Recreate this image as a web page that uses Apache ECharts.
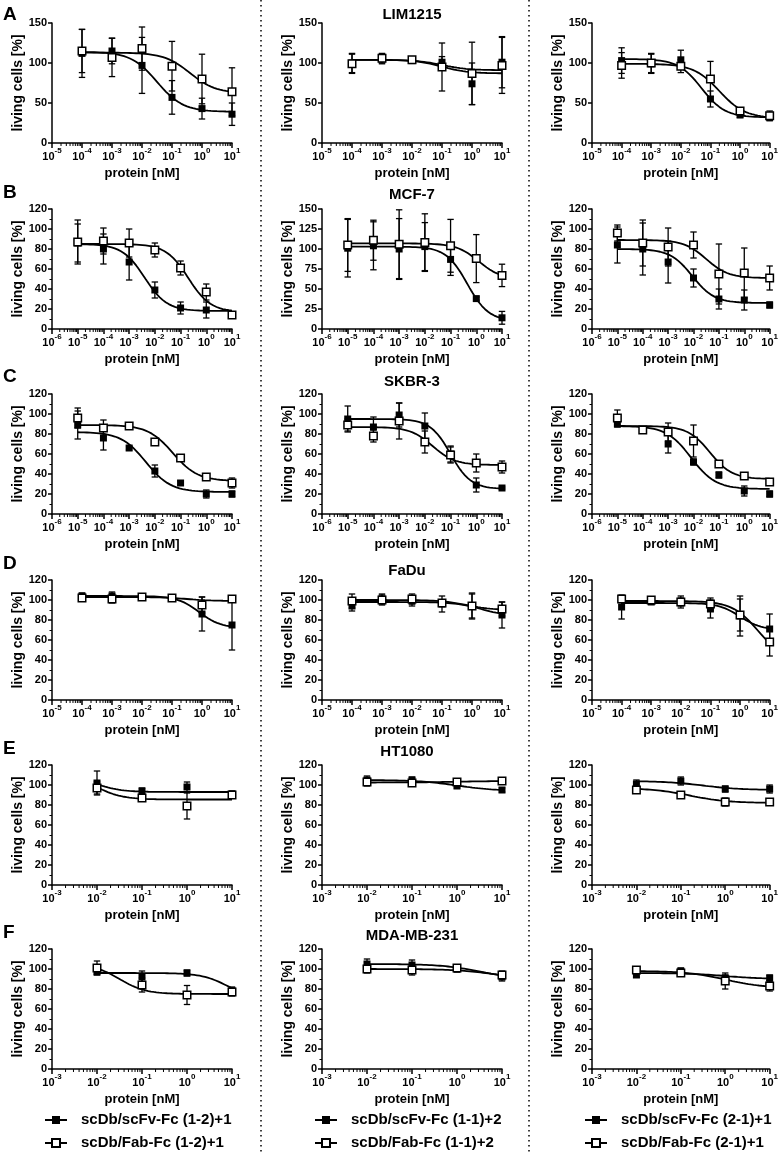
<!DOCTYPE html>
<html><head><meta charset="utf-8">
<script src="https://cdn.jsdelivr.net/npm/echarts@6/dist/echarts.min.js"></script>
<style>html,body{margin:0;padding:0;background:#fff}#c{width:781px;height:1154px}</style>
</head><body><div id="c"></div>
<script>
// ---------- data ----------
const cellLines = ['LIM1215', 'MCF-7', 'SKBR-3', 'FaDu', 'HT1080', 'MDA-MB-231'];
const rowLetters = ['A', 'B', 'C', 'D', 'E', 'F'];
const legendNames = [
  ['scDb/scFv-Fc (1-2)+1', 'scDb/Fab-Fc (1-2)+1'],
  ['scDb/scFv-Fc (1-1)+2', 'scDb/Fab-Fc (1-1)+2'],
  ['scDb/scFv-Fc (2-1)+1', 'scDb/Fab-Fc (2-1)+1']
];
// x-axis decade range (exponents) per row
const xExpRange = [[-5, 1], [-6, 1], [-6, 1], [-5, 1], [-3, 1], [-3, 1]];
// y-axis max and step per row / column
const yMax = [[150, 150, 150], [120, 150, 120], [120, 120, 120], [120, 120, 120], [120, 120, 120], [120, 120, 120]];
const yStep = [[50, 50, 50], [20, 25, 20], [20, 20, 20], [20, 20, 20], [20, 20, 20], [20, 20, 20]];

// doses [nM]
const rowA_dose = [1e-4, 1e-3, 1e-2, 1e-1, 1, 10];
const rowB_dose = [1e-5, 1e-4, 1e-3, 1e-2, 1e-1, 1, 10];
const rowC_dose = [1e-5, 1e-4, 1e-3, 1e-2, 1e-1, 1, 10];
const rowD_dose = [1e-4, 1e-3, 1e-2, 1e-1, 1, 10];
const rowE_dose = [1e-2, 1e-1, 1, 10];
const rowF_dose = [1e-2, 1e-1, 1, 10];

// living cells [%] (filled = scDb/scFv-Fc, open = scDb/Fab-Fc), one inner array per column
const rowA_filled = [[112, 115, 97, 57, 43, 36], [100, 105, 103, 101, 74, 101], [103, 99, 104, 55, 35, 33]];
const rowA_filledErr = [[30, 16, 35, 21, 13, 14], [12, 6, 2, 7, 26, 32], [16, 12, 12, 10, 3, 5]];
const rowA_open = [[115, 107, 118, 96, 80, 64], [99, 106, 104, 95, 87, 97], [97, 100, 96, 80, 40, 34]];
const rowA_openErr = [[27, 24, 27, 31, 31, 30], [12, 6, 2, 30, 39, 35], [16, 12, 8, 22, 3, 6]];

const rowB_filled = [[86, 80, 67, 39, 21, 19, 14], [101, 104, 100, 103, 87, 38, 14], [84, 80, 67, 51, 30, 29, 24]];
const rowB_filledErr = [[19, 15, 18, 8, 6, 8, 2], [36, 30, 38, 30, 20, 2, 8], [18, 26, 21, 9, 10, 10, 3]];
const rowB_open = [[87, 88, 86, 79, 61, 37, 14], [105, 111, 106, 108, 104, 88, 67], [96, 86, 82, 84, 55, 56, 51]];
const rowB_openErr = [[22, 13, 14, 7, 7, 8, 2], [33, 25, 43, 36, 33, 30, 14], [8, 23, 19, 13, 30, 25, 12]];

const rowC_filled = [[89, 76, 66, 43, 31, 20, 20], [95, 87, 99, 88, 60, 29, 26], [90, 84, 70, 52, 39, 23, 20]];
const rowC_filledErr = [[14, 12, 2, 6, 2, 4, 3], [13, 10, 12, 13, 8, 7, 1], [3, 2, 9, 3, 3, 5, 3]];
const rowC_open = [[96, 86, 88, 72, 56, 37, 31], [89, 78, 93, 72, 59, 51, 47], [96, 84, 82, 73, 50, 38, 32]];
const rowC_openErr = [[10, 8, 2, 2, 2, 2, 5], [6, 6, 18, 11, 8, 9, 6], [8, 2, 9, 16, 2, 2, 2]];

const rowD_filled = [[104, 104, 103, 102, 86, 75], [94, 101, 99, 96, 94, 85], [93, 98, 98, 91, 84, 71]];
const rowD_filledErr = [[3, 4, 2, 2, 17, 25], [5, 5, 5, 8, 13, 13], [12, 2, 6, 9, 20, 15]];
const rowD_open = [[102, 101, 103, 102, 95, 101], [99, 100, 101, 97, 94, 91], [101, 100, 98, 96, 85, 58]];
const rowD_openErr = [[3, 4, 2, 2, 8, 2], [7, 5, 5, 3, 12, 7], [3, 2, 4, 6, 16, 14]];

const rowE_filled = [[102, 94, 98, 91], [105, 105, 99, 95], [101, 104, 96, 96]];
const rowE_filledErr = [[12, 3, 5, 3], [4, 3, 2, 2], [4, 4, 3, 4]];
const rowE_open = [[97, 87, 79, 90], [103, 102, 103, 104], [95, 90, 83, 83]];
const rowE_openErr = [[6, 3, 13, 3], [4, 3, 3, 3], [3, 2, 4, 3]];

const rowF_filled = [[97, 92, 96, 78], [105, 104, 100, 92], [94, 98, 91, 91]];
const rowF_filledErr = [[2, 6, 3, 4], [5, 5, 3, 4], [2, 3, 3, 3]];
const rowF_open = [[101, 84, 74, 77], [100, 99, 101, 94], [99, 96, 88, 83]];
const rowF_openErr = [[7, 7, 9.5, 4], [4, 5, 3, 4], [2, 2, 8, 5]];

// fitted 4-parameter logistic curves: [top, bottom, logIC50, hill]
const rowA_fitFilled = [[114, 39, -1.5, 1], [104, 91, -1.0, 1], [105, 32, -1.3, 1.1]];
const rowA_fitOpen = [[113, 62, -0.4, 1], [104, 87, -1.0, 1], [99, 31, -0.7, 1]];
const rowB_fitFilled = [[85, 18, -2.4, 1], [103, 10, -0.35, 1.05], [80, 26, -2.05, 1]];
const rowB_fitOpen = [[85, 17, -0.7, 1], [107, 62, 0.1, 1], [89, 51, -1.5, 1]];
const rowC_fitFilled = [[82, 22, -2.35, 0.9], [95, 25, -1.0, 1.1], [88, 25, -2.1, 0.9]];
const rowC_fitOpen = [[89, 33, -1.3, 0.9], [87, 49, -1.7, 1], [88, 35, -1.35, 1]];
const rowD_fitFilled = [[104, 72, -0.1, 1.2], [98, 84, 0.3, 1], [97, 70, 0, 1.2]];
const rowD_fitOpen = [[103, 99, -0.5, 1], [100, 90, -0.2, 1], [99, 40, 0.6, 1]];
const rowE_fitFilled = [[110, 93, -2.05, 1.5], [105, 94, 0, 1], [104, 95, -0.5, 1]];
const rowE_fitOpen = [[110, 85.5, -2.0, 1.5], [102.5, 104, 0, 1], [97, 82, -0.8, 1]];
const rowF_fitFilled = [[96, 70, 0.9, 1.5], [105, 90, 0.5, 1], [96, 90, 0, 1]];
const rowF_fitOpen = [[105, 75, -1.5, 1.5], [100, 90, 0.8, 1], [98, 81, 0, 1]];

const rows = [
  { dose: rowA_dose, f: rowA_filled, fe: rowA_filledErr, o: rowA_open, oe: rowA_openErr, ff: rowA_fitFilled, fo: rowA_fitOpen },
  { dose: rowB_dose, f: rowB_filled, fe: rowB_filledErr, o: rowB_open, oe: rowB_openErr, ff: rowB_fitFilled, fo: rowB_fitOpen },
  { dose: rowC_dose, f: rowC_filled, fe: rowC_filledErr, o: rowC_open, oe: rowC_openErr, ff: rowC_fitFilled, fo: rowC_fitOpen },
  { dose: rowD_dose, f: rowD_filled, fe: rowD_filledErr, o: rowD_open, oe: rowD_openErr, ff: rowD_fitFilled, fo: rowD_fitOpen },
  { dose: rowE_dose, f: rowE_filled, fe: rowE_filledErr, o: rowE_open, oe: rowE_openErr, ff: rowE_fitFilled, fo: rowE_fitOpen },
  { dose: rowF_dose, f: rowF_filled, fe: rowF_filledErr, o: rowF_open, oe: rowF_openErr, ff: rowF_fitFilled, fo: rowF_fitOpen }
];

// ---------- layout ----------
const FONT = "'Liberation Sans', Arial, sans-serif";
const colLeft = [52, 322, 592];
const plotW = 180, plotH = 120;
const rowTop = [23, 209, 394, 580, 765, 949];
const titlePos = [[412, 15], [412, 195], [412, 382], [407, 571], [407, 752], [412, 936]];
const letterY = [15, 193, 377, 564, 749, 933];

function curve(p, lo, hi) {
  const pts = [];
  const n = 100;
  for (let i = 0; i <= n; i++) {
    const lx = lo + (hi - lo) * i / n;
    pts.push([lx, p[1] + (p[0] - p[1]) / (1 + Math.pow(10, (lx - p[2]) * p[3]))]);
  }
  return pts;
}
function errRender(params, api) {
  const x = api.value(0), y = api.value(1), e = api.value(2);
  const t = api.coord([x, y + e]), b = api.coord([x, y - e]);
  const hw = 3.2;
  const st = { stroke: '#000', lineWidth: 1.3 };
  return {
    type: 'group', children: [
      { type: 'line', shape: { x1: t[0], y1: t[1], x2: b[0], y2: b[1] }, style: st },
      { type: 'line', shape: { x1: t[0] - hw, y1: t[1], x2: t[0] + hw, y2: t[1] }, style: st },
      { type: 'line', shape: { x1: b[0] - hw, y1: b[1], x2: b[0] + hw, y2: b[1] }, style: st }
    ]
  };
}
function minorRender(params, api) {
  const c = api.coord([api.value(0), 0]);
  return { type: 'line', shape: { x1: c[0], y1: c[1], x2: c[0], y2: c[1] + 3 }, style: { stroke: '#000', lineWidth: 1 } };
}

const grids = [], xAxes = [], yAxes = [], series = [];
const axisLineStyle = { color: '#000', width: 1.5 };
rows.forEach((row, r) => {
  const lx = row.dose.map(d => Math.log10(d));
  const lo = lx[0], hi = lx[lx.length - 1];
  const minor = [];
  for (let e = xExpRange[r][0]; e < xExpRange[r][1]; e++) {
    for (let k = 2; k <= 9; k++) minor.push([e + Math.log10(k), 0]);
  }
  for (let c = 0; c < 3; c++) {
    const g = r * 3 + c;
    grids.push({ left: colLeft[c], top: rowTop[r], width: plotW, height: plotH });
    xAxes.push({
      gridIndex: g, type: 'value', min: xExpRange[r][0], max: xExpRange[r][1], interval: 1,
      name: 'protein [nM]', nameLocation: 'middle', nameGap: 24,
      nameTextStyle: { fontFamily: FONT, fontWeight: 'bold', fontSize: 13, color: '#000' },
      axisLine: { show: true, onZero: false, lineStyle: axisLineStyle },
      axisTick: { show: true, length: 5, lineStyle: { color: '#000', width: 1.5 } },
      splitLine: { show: false },
      axisLabel: {
        margin: 4, color: '#000',
        formatter: v => '{b|10}{s|' + v + '}',
        rich: {
          b: { fontFamily: FONT, fontWeight: 'bold', fontSize: 11, color: '#000', verticalAlign: 'bottom', lineHeight: 15 },
          s: { fontFamily: FONT, fontWeight: 'bold', fontSize: 8, color: '#000', verticalAlign: 'top', lineHeight: 9 }
        }
      }
    });
    const step = yStep[r][c];
    yAxes.push({
      gridIndex: g, type: 'value', min: 0, max: yMax[r][c], interval: step,
      name: 'living cells [%]', nameLocation: 'middle', nameGap: 27, nameRotate: 90,
      nameTextStyle: { fontFamily: FONT, fontWeight: 'bold', fontSize: 14, color: '#000' },
      axisLine: { show: true, onZero: false, lineStyle: axisLineStyle },
      axisTick: { show: true, length: 4, lineStyle: { color: '#000', width: 1.5 } },
      minorTick: { show: step === 20, splitNumber: 2, length: 2.5, lineStyle: { color: '#000', width: 1 } },
      splitLine: { show: false },
      axisLabel: { margin: 5, color: '#000', fontFamily: FONT, fontWeight: 'bold', fontSize: 11 }
    });
    const base = { xAxisIndex: g, yAxisIndex: g, animation: false };
    series.push(Object.assign({
      type: 'custom', renderItem: minorRender, data: minor, silent: true, z: 1, clip: false
    }, base));
    series.push(Object.assign({
      type: 'line', name: 'fit', data: curve(row.ff[c], lo, hi), showSymbol: false, symbol: 'none',
      lineStyle: { color: '#000', width: 1.8 }, z: 2, silent: true
    }, base));
    series.push(Object.assign({
      type: 'line', name: 'fit', data: curve(row.fo[c], lo, hi), showSymbol: false, symbol: 'none',
      lineStyle: { color: '#000', width: 1.8 }, z: 2, silent: true
    }, base));
    series.push(Object.assign({
      type: 'custom', renderItem: errRender, z: 3, silent: true,
      data: lx.map((x, i) => [x, row.f[c][i], row.fe[c][i]])
    }, base));
    series.push(Object.assign({
      type: 'custom', renderItem: errRender, z: 3, silent: true,
      data: lx.map((x, i) => [x, row.o[c][i], row.oe[c][i]])
    }, base));
    series.push(Object.assign({
      type: 'line', name: legendNames[c][0], data: lx.map((x, i) => [x, row.f[c][i]]),
      symbol: 'rect', symbolSize: 7, showSymbol: true, showAllSymbol: true,
      lineStyle: { width: 0, opacity: 0 }, itemStyle: { color: '#000' }, z: 4
    }, base));
    series.push(Object.assign({
      type: 'line', name: legendNames[c][1], data: lx.map((x, i) => [x, row.o[c][i]]),
      symbol: 'rect', symbolSize: 7.5, showSymbol: true, showAllSymbol: true,
      lineStyle: { width: 0, opacity: 0 }, itemStyle: { color: '#fff', borderColor: '#000', borderWidth: 1.5 }, z: 5
    }, base));
  }
});

const graphic = [];
[261, 529].forEach(x => graphic.push({
  type: 'line', shape: { x1: x, y1: 0, x2: x, y2: 1154 },
  style: { stroke: '#000', lineWidth: 1.5, lineDash: [1.5, 3.5] }, silent: true
}));
rowLetters.forEach((L, r) => graphic.push({
  type: 'text', x: 3, y: letterY[r],
  style: { text: L, fill: '#000', font: 'bold 19px ' + FONT, align: 'left', verticalAlign: 'middle', textAlign: 'left', textVerticalAlign: 'middle' }
}));
cellLines.forEach((t, r) => graphic.push({
  type: 'text', x: titlePos[r][0], y: titlePos[r][1],
  style: { text: t, fill: '#000', font: 'bold 15px ' + FONT, align: 'center', verticalAlign: 'middle', textAlign: 'center', textVerticalAlign: 'middle' }
}));

const legendLeft = [44, 314, 584];
const legends = legendNames.map((names, i) => ({
  orient: 'vertical', left: legendLeft[i], top: 1111, height: 43, padding: 0, itemGap: 5, itemWidth: 22, itemHeight: 10,
  selectedMode: false, data: names,
  lineStyle: { color: '#000', width: 2, opacity: 1 },
  textStyle: { fontFamily: FONT, fontWeight: 'bold', fontSize: 15, color: '#000', lineHeight: 18, padding: [0, 0, 0, 9] }
}));

const chart = echarts.init(document.getElementById('c'), null, { renderer: 'canvas' });
chart.setOption({
  animation: false,
  backgroundColor: '#fff',
  grid: grids, xAxis: xAxes, yAxis: yAxes, series: series,
  legend: legends, graphic: graphic
});
</script></body></html>
